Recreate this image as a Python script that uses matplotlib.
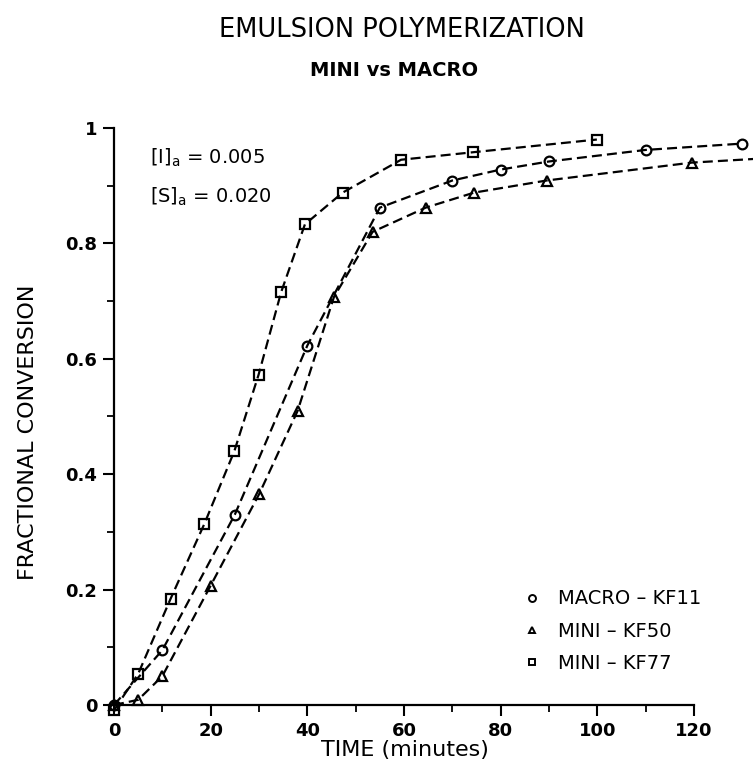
import numpy as np
import matplotlib
matplotlib.use("Agg")
import matplotlib.pyplot as plt
from matplotlib.lines import Line2D

# MACRO - KF11 (circles)
macro_t = [0, 10, 25, 40, 55, 70, 80, 90, 110, 130]
macro_x = [0.0, 0.095, 0.33, 0.623, 0.862, 0.909, 0.928, 0.942, 0.962, 0.973]

# MINI - KF50 (triangles)
kf50_t = [0, 5, 10, 20, 30, 38, 45.5, 53.5, 64.5, 74.5, 89.5, 119.5, 150]
kf50_x = [0.0, 0.009, 0.05, 0.207, 0.365, 0.51, 0.707, 0.82, 0.862, 0.888, 0.909, 0.94, 0.955]

# MINI - KF77 (squares)
kf77_t = [0, 5, 11.7, 18.7, 24.9, 29.9, 34.6, 39.5, 47.3, 59.4, 74.3, 99.9]
kf77_x = [-0.009, 0.054, 0.184, 0.314, 0.44, 0.572, 0.716, 0.833, 0.888, 0.945, 0.958, 0.98]

labels = ["MACRO \u2013 KF11", "MINI \u2013 KF50", "MINI \u2013 KF77"]
x_ticks = [0, 20, 40, 60, 80, 100, 120]
y_ticks = [0, 0.2, 0.4, 0.6, 0.8, 1.0]
y_tick_labels = ["0", "0.2", "0.4", "0.6", "0.8", "1"]

W, H = 753, 770
fig = plt.figure(figsize=(W / 100, H / 100), dpi=100)
plt.rcParams['font.family'] = ['DejaVu Sans']

# axes: x from 114 px (t=0) to figure edge, y 0 at 705 px, 1 at 128 px
px_per_min = (694 - 114) / 120.0
x_max = (W - 114) / px_per_min
ax = fig.add_axes([114 / W, (H - 705) / H, 1 - 114 / W, (705 - 128) / H])
ax.set_xlim(0, x_max)
ax.set_ylim(0, 1)

dash = (0, (4.5, 2.3))
style = dict(color="black", lw=1.6, linestyle=dash, markerfacecolor="none",
             markeredgecolor="black", markeredgewidth=1.6, clip_on=False)
ax.plot(macro_t, macro_x, marker="o", markersize=7, **style)
ax.plot(kf50_t, kf50_x, marker="^", markersize=7, **style)
ax.plot(kf77_t, kf77_x, marker="s", markersize=6.5, **style)

for side in ["top", "right"]:
    ax.spines[side].set_visible(False)
ax.spines["left"].set_linewidth(1.6)
ax.spines["bottom"].set_linewidth(1.6)
ax.spines["bottom"].set_bounds(0, 120)
ax.spines["left"].set_bounds(0, 1)

ax.set_xticks(x_ticks)
ax.set_xticks(np.arange(10, 120, 20), minor=True)
ax.set_yticks(y_ticks)
ax.set_yticklabels(y_tick_labels)
ax.set_yticks(np.arange(0.1, 1.0, 0.2), minor=True)
ax.tick_params(which="major", direction="out", length=8, width=1.5,
               labelsize=13, pad=4)
ax.tick_params(which="minor", direction="out", length=5, width=1.3)
for lab in ax.get_xticklabels() + ax.get_yticklabels():
    lab.set_fontweight("bold")

fig.text(402 / W, 1 - 30 / H, "EMULSION POLYMERIZATION", ha="center",
         va="center", fontsize=18.5)
fig.text(394 / W, 1 - 70 / H, "MINI vs MACRO", ha="center", va="center",
         fontsize=14, fontweight="bold")
fig.text(405 / W, 1 - 750 / H, "TIME (minutes)", ha="center", va="center",
         fontsize=16)
fig.text(28 / W, 1 - 432 / H, "FRACTIONAL CONVERSION", ha="center",
         va="center", rotation=90, fontsize=16)

fig.text(150 / W, 1 - 158 / H, r"[I]$_{\mathregular{a}}$ = 0.005", ha="left",
         va="center", fontsize=14)
fig.text(150 / W, 1 - 197 / H, r"[S]$_{\mathregular{a}}$ = 0.020", ha="left",
         va="center", fontsize=14)

handles = [Line2D([], [], linestyle="none", marker=m, markersize=5,
                  markerfacecolor="none", markeredgecolor="black",
                  markeredgewidth=1.4) for m in ["o", "^", "s"]]
ax.legend(handles, labels, loc="upper left", frameon=False, fontsize=14,
          bbox_to_anchor=(505 / W, 1 - 572 / H), bbox_transform=fig.transFigure,
          handlelength=1.0, handletextpad=0.8, labelspacing=0.68)

fig.savefig("out.png", dpi=100)
